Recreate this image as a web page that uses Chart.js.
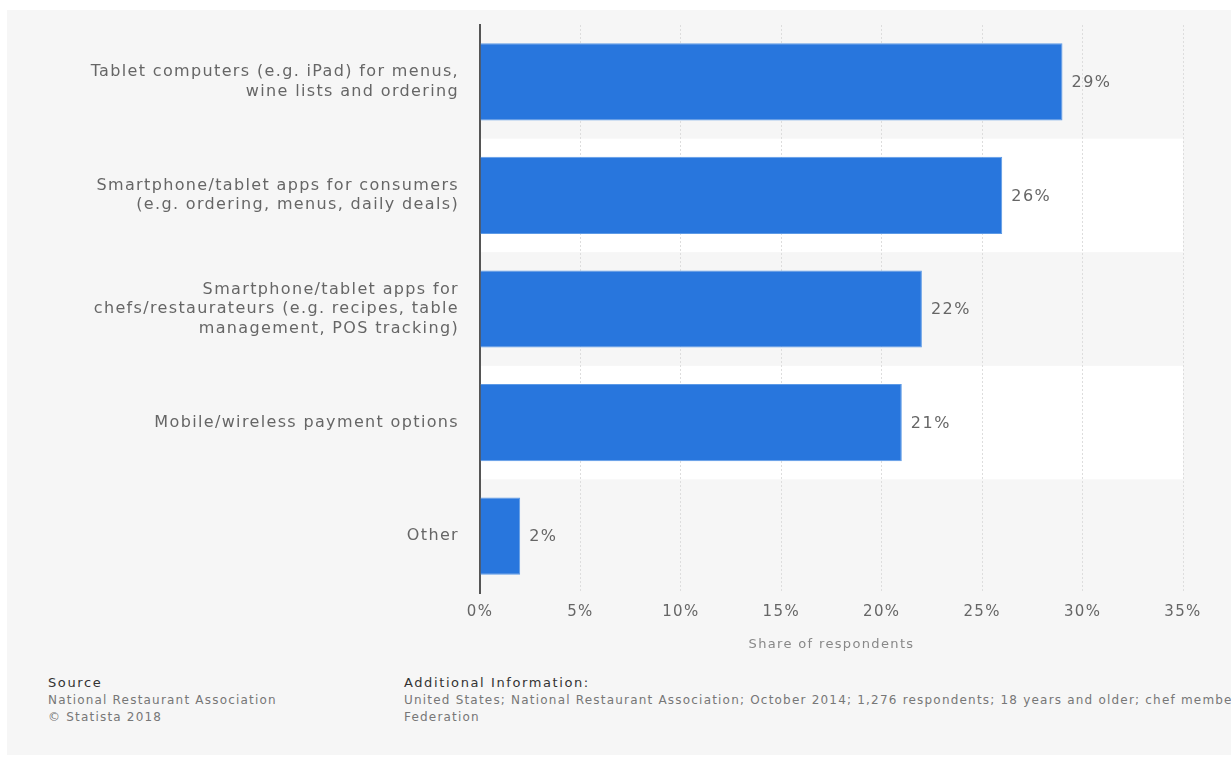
<!DOCTYPE html>
<html>
<head>
<meta charset="utf-8">
<script src="https://cdn.jsdelivr.net/npm/chart.js@4"></script>
<style>
  html, body { margin: 0; padding: 0; background: #fff; }
  body { width: 1231px; height: 760px; position: relative; overflow: hidden; font-family: "DejaVu Sans", sans-serif; }
  #panel { position: absolute; left: 7px; top: 10px; width: 1224px; height: 745px; background: #f6f6f6; }
  #wrap { position: absolute; left: 0; top: 0; width: 1231px; height: 660px; }
  .foot { position: absolute; font-size: 12px; color: #777; line-height: 17px; white-space: nowrap; letter-spacing: 1.2px; }
  .foot b { font-weight: normal; color: #333; font-size: 13px; letter-spacing: 1.6px; }
</style>
</head>
<body>
<div id="panel"></div>
<div id="wrap"><canvas id="results-bar-chart"></canvas></div>
<div class="foot" style="left:48px; top:674px;"><b>Source</b><br>National Restaurant Association<br>© Statista 2018</div>
<div class="foot" style="left:404px; top:674px;"><b>Additional Information:</b><br>United States; National Restaurant Association; October 2014; 1,276 respondents; 18 years and older; chef members of the American Culinary<br>Federation</div>
<script>
let ctx = document.getElementById("results-bar-chart").getContext("2d");
let labels = [
  ["Tablet computers (e.g. iPad) for menus,", "wine lists and ordering"],
  ["Smartphone/tablet apps for consumers", "(e.g. ordering, menus, daily deals)"],
  ["Smartphone/tablet apps for", "chefs/restaurateurs (e.g. recipes, table", "management, POS tracking)"],
  "Mobile/wireless payment options",
  "Other",
];
let scores = [29, 26, 22, 21, 2];
let ticks = [0, 5, 10, 15, 20, 25, 30, 35];

// wider text like the statista render
const spacing = {
  id: "spacing",
  beforeUpdate(chart) { chart.ctx.letterSpacing = "1.35px"; },
  beforeDraw(chart) { chart.ctx.letterSpacing = "1.35px"; },
};

// white stripes behind every second row
const bands = {
  id: "bands",
  beforeDraw(chart) {
    let area = chart.chartArea;
    let y = chart.scales.y;
    let c = chart.ctx;
    let step = (area.bottom - area.top) / labels.length;
    c.save();
    c.fillStyle = "#ffffff";
    for (let i = 1; i < labels.length; i += 2) {
      let mid = y.getPixelForValue(i);
      c.fillRect(area.left, mid - step / 2, area.right - area.left, step);
    }
    c.restore();
  },
};

// value labels at bar ends
const valueLabels = {
  id: "valueLabels",
  afterDatasetsDraw(chart) {
    let c = chart.ctx;
    let meta = chart.getDatasetMeta(0);
    c.save();
    c.font = "16px 'DejaVu Sans'";
    c.letterSpacing = "1.5px";
    c.fillStyle = "#666";
    c.textBaseline = "middle";
    meta.data.forEach((bar, i) => {
      c.fillText(scores[i] + "%", bar.x + 9, bar.y + 1);
    });
    c.restore();
  },
};

let barChart = new Chart(ctx, {
  type: "bar",
  data: {
    labels: labels,
    datasets: [
      {
        data: scores,
        backgroundColor: "#2876dd",
        borderColor: "#5d9ae6",
        borderWidth: 1,
        categoryPercentage: 0.68,
        barPercentage: 1,
      },
    ],
  },
  options: {
    indexAxis: "y",
    responsive: true,
    maintainAspectRatio: false,
    animation: false,
    layout: { padding: { top: 25, right: 48, bottom: 0, left: 0 } },
    plugins: {
      legend: { display: false },
      tooltip: { enabled: false },
    },
    scales: {
      x: {
        min: 0,
        max: 35,
        afterFit: (scale) => { scale.height = 67; },
        afterBuildTicks: (scale) => { scale.ticks = ticks.map((v) => ({ value: v })); },
        grid: { color: "#dddddd", lineWidth: 1, drawTicks: false },
        border: { display: false, dash: [2, 2] },
        ticks: {
          padding: 10,
          color: "#666",
          font: { family: "DejaVu Sans", size: 15 },
          callback: (v) => v + "%",
        },
        title: {
          display: true,
          text: "Share of respondents",
          color: "#888",
          font: { family: "DejaVu Sans", size: 13 },
          padding: { top: 4, bottom: 8 },
        },
      },
      y: {
        afterFit: (scale) => {
          scale.width = 480;
          scale.paddingTop = 0;
          scale.paddingBottom = 0;
        },
        grid: { display: false },
        border: { display: true, color: "#555", width: 2 },
        ticks: {
          padding: 13,
          color: "#666",
          font: { family: "DejaVu Sans", size: 16, lineHeight: 1.22 },
        },
      },
    },
  },
  plugins: [spacing, bands, valueLabels],
});
</script>
</body>
</html>
